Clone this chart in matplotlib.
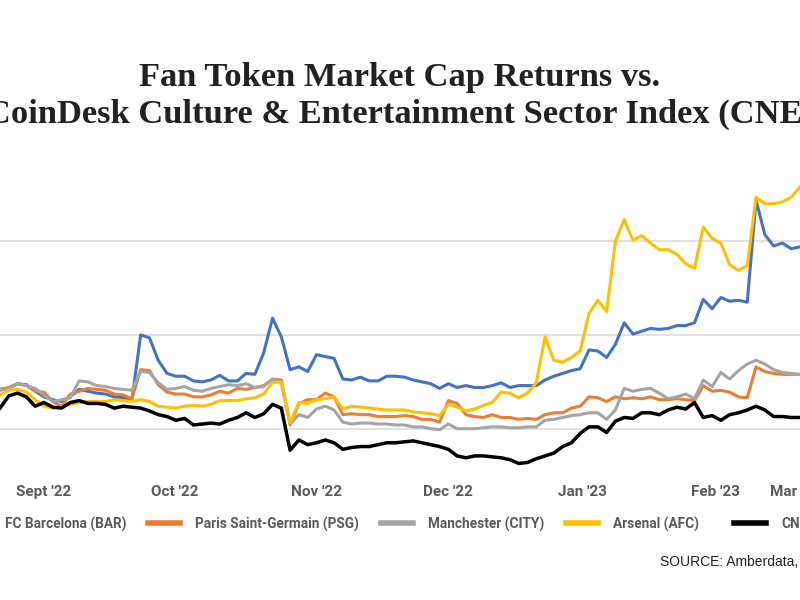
import numpy as np
import matplotlib
matplotlib.use("Agg")
import matplotlib.pyplot as plt

# days since start of the window (every 2nd day)
days = np.arange(0, 183, 2)

bar = [42, 43, 48, 47, 40, 34, 31, 29, 34, 42,
       40, 38, 37, 34, 33, 30, 100, 97, 73, 59,
       56, 56, 51, 50, 52, 57, 51, 51, 59, 58,
       81, 118, 98, 63, 66, 61, 79, 77, 75, 53,
       52, 55, 51, 51, 56, 56, 55, 52, 50, 48,
       43, 48, 44, 46, 44, 44, 46, 49, 44, 46,
       46, 46, 52, 56, 59, 62, 64, 84, 83, 76,
       90, 113, 101, 104, 107, 106, 107, 110, 110, 113,
       138, 128, 140, 136, 137, 135, 244, 207, 195, 198,
       192, 194]

psg = [42, 44, 48, 46, 40, 39, 29, 24, 37, 40,
       43, 42, 41, 37, 36, 32, 63, 62, 47, 39,
       37, 37, 34, 34, 36, 40, 38, 43, 42, 44,
       46, 53, 52, 4, 27, 31, 31, 38, 34, 15,
       16, 15, 15, 13, 13, 13, 14, 13, 10, 10,
       7, 30, 27, 15, 13, 12, 15, 12, 12, 10,
       11, 10, 15, 17, 17, 22, 24, 34, 33, 29,
       34, 32, 33, 32, 34, 31, 31, 32, 31, 30,
       46, 40, 41, 39, 34, 33, 66, 61, 59, 58,
       58, 58]

city = [41, 43, 48, 46, 43, 36, 29, 31, 33, 51,
        50, 46, 45, 43, 42, 41, 61, 60, 49, 42,
        43, 45, 41, 40, 43, 45, 47, 46, 48, 44,
        45, 53, 49, 5, 15, 12, 21, 24, 20, 7,
        5, 6, 6, 5, 5, 4, 4, 2, 2, 0,
        -1, 5, 0, 0, 0, 1, 2, 2, 1, 1,
        2, 2, 9, 10, 12, 14, 15, 17, 17, 10,
        20, 43, 40, 42, 43, 38, 32, 34, 37, 32,
        52, 45, 60, 53, 62, 69, 73, 69, 63, 60,
        59, 58]

afc = [36, 41, 42, 39, 31, 24, 22, 23, 26, 28,
       29, 29, 29, 31, 30, 29, 31, 29, 24, 23,
       22, 24, 25, 24, 26, 30, 30, 30, 32, 33,
       37, 49, 50, 6, 28, 27, 31, 32, 34, 21,
       24, 23, 22, 21, 20, 20, 20, 18, 17, 16,
       14, 26, 23, 19, 21, 25, 28, 39, 38, 33,
       38, 49, 98, 73, 71, 76, 83, 123, 137, 125,
       200, 223, 201, 206, 198, 191, 191, 186, 176, 171,
       215, 203, 198, 175, 169, 174, 247, 240, 240, 242,
       247, 258]

cne = [22, 35, 38, 34, 24, 28, 23, 22, 28, 30,
       27, 27, 26, 22, 24, 23, 22, 19, 15, 13,
       9, 11, 4, 5, 6, 5, 9, 12, 17, 12,
       16, 26, 22, -23, -12, -17, -15, -12, -15, -22,
       -20, -19, -19, -17, -15, -15, -14, -13, -15, -17,
       -19, -22, -29, -31, -29, -29, -30, -31, -33, -37,
       -36, -32, -29, -26, -19, -15, -5, 2, 2, -4,
       8, 12, 11, 17, 17, 15, 20, 23, 21, 28,
       12, 14, 9, 15, 17, 20, 24, 20, 13, 13,
       12, 12]

tick_days = [9.9, 39.7, 71.9, 101.9, 132.6, 162.8, 181]
tick_labels = ["Sept '22", "Oct '22", "Nov '22", "Dec '22", "Jan '23", "Feb '23", "Mar '23"]

series = [
    ("FC Barcelona (BAR)", bar, "#4472C4", 2.2),
    ("Paris Saint-Germain (PSG)", psg, "#ED7D31", 2.2),
    ("Manchester (CITY)", city, "#A5A5A5", 2.2),
    ("Arsenal (AFC)", afc, "#FFC000", 2.2),
    ("CNE", cne, "#000000", 2.5),
]

label_font = ["Roboto", "DejaVu Sans"]

fig = plt.figure(figsize=(8, 6), dpi=100)
ax = fig.add_axes([0, 0.2167, 1, 0.5])

lines = []
for name, vals, col, lw in series:
    ln, = ax.plot(days, vals, color=col, lw=lw, label=name, solid_joinstyle="round")
    lines.append(ln)

ax.set_xlim(0, 182)
ax.set_ylim(-44, 276)
ax.set_yticks([0, 100, 200])
ax.yaxis.grid(True, color="#d9d9d9", lw=1.1)
ax.set_axisbelow(True)
ax.tick_params(axis="y", left=False, labelleft=False)
ax.set_xticks(tick_days)
ax.set_xticklabels(tick_labels, fontsize=11, fontweight="bold", color="#595959", family=label_font)
ax.tick_params(axis="x", length=0, pad=11)
for s in ax.spines.values():
    s.set_visible(False)

fig.text(0.5, 1 - 96 / 600, "Fan Token Market Cap Returns vs.\nCoinDesk Culture & Entertainment Sector Index (CNE)",
         ha="center", va="center", fontsize=24.8, fontweight="bold", family="Liberation Serif",
         color="#222222", linespacing=1.2)

leg_kw = dict(frameon=False, prop={"family": label_font, "weight": "bold", "size": 9.8},
              handlelength=2.35, handletextpad=1.1, columnspacing=1.6,
              borderpad=0, borderaxespad=0)
leg1 = fig.legend(lines[:4], [s[0] for s in series[:4]], loc="center left",
                  bbox_to_anchor=(-0.0525, 1 - 524 / 600), ncol=4, **leg_kw)
leg2 = fig.legend(lines[4:], [series[4][0]], loc="center left",
                  bbox_to_anchor=(734 / 800, 1 - 524 / 600), ncol=1, **leg_kw)
for leg in (leg1, leg2):
    for t in leg.get_texts():
        t.set_color("#595959")
    for h in leg.get_lines():
        h.set_linewidth(4)

fig.text(660 / 800, 1 - 562 / 600, "SOURCE: Amberdata, CoinDesk Indices", ha="left", va="center",
         fontsize=10, family="Liberation Sans", color="#222222")

fig.savefig("out.png", dpi=100)
